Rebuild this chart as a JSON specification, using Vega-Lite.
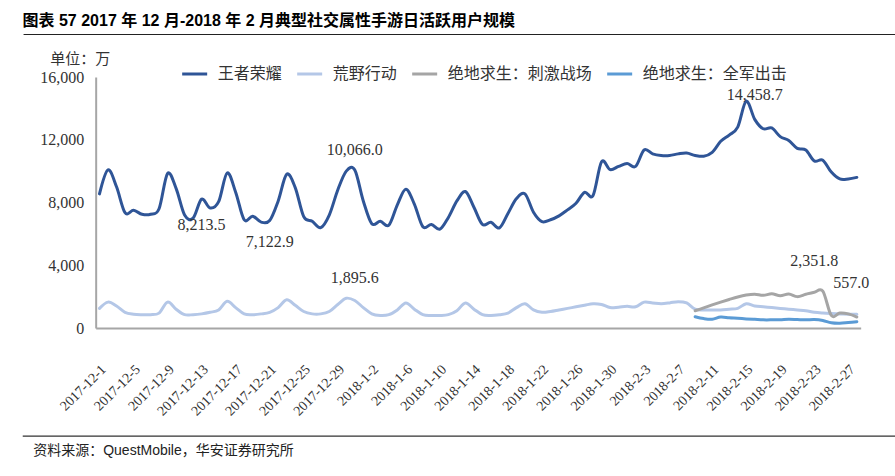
{
  "$schema": "https://vega.github.io/schema/vega-lite/v6.json",
  "padding": {"left": 22, "top": 12, "right": 5, "bottom": 5},
  "background": "white",
  "config": {"view": {"stroke": null}},
  "title": {"text": "图表 57 2017 年 12 月-2018 年 2 月典型社交属性手游日活跃用户规模", "anchor": "start", "dx": 0, "offset": 5, "font": "Liberation Sans, Noto Sans CJK SC", "fontSize": 16, "fontWeight": "bold", "color": "#000"},
  "spacing": 16,
  "center": true,
  "resolve": {"scale": {"color": "independent"}, "legend": {"color": "independent"}},
  "vconcat": [
    {
      "width": 918, "height": 0.01,
      "view": {"stroke": "#222", "strokeWidth": 1},
      "data": {"values": [{"t": ""}]},
      "mark": {"type": "text", "fontSize": 0},
      "encoding": {"text": {"field": "t"}}
    },
    {
      "width": 765, "height": 251,
      "layer": [
        {
          "data": {"values": [
            {"d":"2017-12-1","王者荣耀":8550,"荒野行动":1250},
            {"d":"2017-12-2","王者荣耀":10080,"荒野行动":1650},
            {"d":"2017-12-3","王者荣耀":9000,"荒野行动":1400},
            {"d":"2017-12-4","王者荣耀":7350,"荒野行动":1000},
            {"d":"2017-12-5","王者荣耀":7500,"荒野行动":880},
            {"d":"2017-12-6","王者荣耀":7250,"荒野行动":850},
            {"d":"2017-12-7","王者荣耀":7250,"荒野行动":850},
            {"d":"2017-12-8","王者荣耀":7600,"荒野行动":950},
            {"d":"2017-12-9","王者荣耀":9850,"荒野行动":1650},
            {"d":"2017-12-10","王者荣耀":8900,"荒野行动":1200},
            {"d":"2017-12-11","王者荣耀":7200,"荒野行动":850},
            {"d":"2017-12-12","王者荣耀":7000,"荒野行动":850},
            {"d":"2017-12-13","王者荣耀":8213.5,"荒野行动":900},
            {"d":"2017-12-14","王者荣耀":7650,"荒野行动":1000},
            {"d":"2017-12-15","王者荣耀":8050,"荒野行动":1150},
            {"d":"2017-12-16","王者荣耀":9880,"荒野行动":1700},
            {"d":"2017-12-17","王者荣耀":8660,"荒野行动":1300},
            {"d":"2017-12-18","王者荣耀":6900,"荒野行动":900},
            {"d":"2017-12-19","王者荣耀":7122.9,"荒野行动":850},
            {"d":"2017-12-20","王者荣耀":6750,"荒野行动":900},
            {"d":"2017-12-21","王者荣耀":6850,"荒野行动":1000},
            {"d":"2017-12-22","王者荣耀":8100,"荒野行动":1300},
            {"d":"2017-12-23","王者荣耀":9800,"荒野行动":1800},
            {"d":"2017-12-24","王者荣耀":8950,"荒野行动":1450},
            {"d":"2017-12-25","王者荣耀":7100,"荒野行动":1050},
            {"d":"2017-12-26","王者荣耀":6800,"荒野行动":900},
            {"d":"2017-12-27","王者荣耀":6400,"荒野行动":900},
            {"d":"2017-12-28","王者荣耀":7200,"荒野行动":1050},
            {"d":"2017-12-29","王者荣耀":8800,"荒野行动":1500},
            {"d":"2017-12-30","王者荣耀":10000,"荒野行动":1895.6},
            {"d":"2017-12-31","王者荣耀":10066,"荒野行动":1750},
            {"d":"2018-1-1","王者荣耀":8100,"荒野行动":1300},
            {"d":"2018-1-2","王者荣耀":6650,"荒野行动":900},
            {"d":"2018-1-3","王者荣耀":6800,"荒野行动":800},
            {"d":"2018-1-4","王者荣耀":6550,"荒野行动":850},
            {"d":"2018-1-5","王者荣耀":7850,"荒野行动":1150},
            {"d":"2018-1-6","王者荣耀":8850,"荒野行动":1600},
            {"d":"2018-1-7","王者荣耀":7900,"荒野行动":1200},
            {"d":"2018-1-8","王者荣耀":6450,"荒野行动":850},
            {"d":"2018-1-9","王者荣耀":6600,"荒野行动":800},
            {"d":"2018-1-10","王者荣耀":6300,"荒野行动":800},
            {"d":"2018-1-11","王者荣耀":7050,"荒野行动":850},
            {"d":"2018-1-12","王者荣耀":8100,"荒野行动":1100},
            {"d":"2018-1-13","王者荣耀":8700,"荒野行动":1600},
            {"d":"2018-1-14","王者荣耀":7700,"荒野行动":1200},
            {"d":"2018-1-15","王者荣耀":6600,"荒野行动":850},
            {"d":"2018-1-16","王者荣耀":6740,"荒野行动":800},
            {"d":"2018-1-17","王者荣耀":6380,"荒野行动":850},
            {"d":"2018-1-18","王者荣耀":7300,"荒野行动":950},
            {"d":"2018-1-19","王者荣耀":8250,"荒野行动":1300},
            {"d":"2018-1-20","王者荣耀":8550,"荒野行动":1550},
            {"d":"2018-1-21","王者荣耀":7380,"荒野行动":1150},
            {"d":"2018-1-22","王者荣耀":6780,"荒野行动":1000},
            {"d":"2018-1-23","王者荣耀":6900,"荒野行动":1050},
            {"d":"2018-1-24","王者荣耀":7150,"荒野行动":1150},
            {"d":"2018-1-25","王者荣耀":7530,"荒野行动":1250},
            {"d":"2018-1-26","王者荣耀":7950,"荒野行动":1350},
            {"d":"2018-1-27","王者荣耀":8650,"荒野行动":1450},
            {"d":"2018-1-28","王者荣耀":8450,"荒野行动":1550},
            {"d":"2018-1-29","王者荣耀":10600,"荒野行动":1500},
            {"d":"2018-1-30","王者荣耀":10100,"荒野行动":1300},
            {"d":"2018-1-31","王者荣耀":10300,"荒野行动":1330},
            {"d":"2018-2-1","王者荣耀":10480,"荒野行动":1380},
            {"d":"2018-2-2","王者荣耀":10300,"荒野行动":1350},
            {"d":"2018-2-3","王者荣耀":11350,"荒野行动":1650},
            {"d":"2018-2-4","王者荣耀":11100,"荒野行动":1600},
            {"d":"2018-2-5","王者荣耀":11000,"荒野行动":1550},
            {"d":"2018-2-6","王者荣耀":11000,"荒野行动":1600},
            {"d":"2018-2-7","王者荣耀":11100,"荒野行动":1680},
            {"d":"2018-2-8","王者荣耀":11150,"荒野行动":1600},
            {"d":"2018-2-9","王者荣耀":11000,"荒野行动":1200,"绝地求生：刺激战场":1100,"绝地求生：全军出击":720},
            {"d":"2018-2-10","王者荣耀":10950,"荒野行动":1150,"绝地求生：刺激战场":1280,"绝地求生：全军出击":600},
            {"d":"2018-2-11","王者荣耀":11200,"荒野行动":1150,"绝地求生：刺激战场":1470,"绝地求生：全军出击":560},
            {"d":"2018-2-12","王者荣耀":11900,"荒野行动":1150,"绝地求生：刺激战场":1650,"绝地求生：全军出击":700},
            {"d":"2018-2-13","王者荣耀":12300,"荒野行动":1200,"绝地求生：刺激战场":1820,"绝地求生：全军出击":650},
            {"d":"2018-2-14","王者荣耀":12800,"荒野行动":1250,"绝地求生：刺激战场":1980,"绝地求生：全军出击":620},
            {"d":"2018-2-15","王者荣耀":14458.7,"荒野行动":1550,"绝地求生：刺激战场":2100,"绝地求生：全军出击":580},
            {"d":"2018-2-16","王者荣耀":13300,"荒野行动":1400,"绝地求生：刺激战场":2150,"绝地求生：全军出击":550},
            {"d":"2018-2-17","王者荣耀":12700,"荒野行动":1350,"绝地求生：刺激战场":2080,"绝地求生：全军出击":520},
            {"d":"2018-2-18","王者荣耀":12750,"荒野行动":1300,"绝地求生：刺激战场":2180,"绝地求生：全军出击":520},
            {"d":"2018-2-19","王者荣耀":12200,"荒野行动":1250,"绝地求生：刺激战场":2060,"绝地求生：全军出击":530},
            {"d":"2018-2-20","王者荣耀":11950,"荒野行动":1200,"绝地求生：刺激战场":2170,"绝地求生：全军出击":560},
            {"d":"2018-2-21","王者荣耀":11450,"荒野行动":1150,"绝地求生：刺激战场":2000,"绝地求生：全军出击":540},
            {"d":"2018-2-22","王者荣耀":11350,"荒野行动":1100,"绝地求生：刺激战场":2150,"绝地求生：全军出击":520},
            {"d":"2018-2-23","王者荣耀":10650,"荒野行动":1000,"绝地求生：刺激战场":2280,"绝地求生：全军出击":540},
            {"d":"2018-2-24","王者荣耀":10700,"荒野行动":950,"绝地求生：刺激战场":2351.8,"绝地求生：全军出击":480},
            {"d":"2018-2-25","王者荣耀":9940,"荒野行动":920,"绝地求生：刺激战场":800,"绝地求生：全军出击":330},
            {"d":"2018-2-26","王者荣耀":9500,"荒野行动":900,"绝地求生：刺激战场":950,"绝地求生：全军出击":300},
            {"d":"2018-2-27","王者荣耀":9500,"荒野行动":880,"绝地求生：刺激战场":900,"绝地求生：全军出击":350},
            {"d":"2018-2-28","王者荣耀":9600,"荒野行动":870,"绝地求生：刺激战场":700,"绝地求生：全军出击":400}
          ]},
          "transform": [{"fold": ["王者荣耀", "荒野行动", "绝地求生：刺激战场", "绝地求生：全军出击"], "as": ["g", "v"]}],
          "mark": {"type": "line", "interpolate": "cardinal", "strokeWidth": 3, "strokeCap": "round"},
          "encoding": {
            "x": {
              "field": "d", "type": "ordinal", "sort": null,
              "scale": {"type": "point", "padding": 0.45},
              "axis": {
                "title": null,
                "values": ["2017-12-1","2017-12-5","2017-12-9","2017-12-13","2017-12-17","2017-12-21","2017-12-25","2017-12-29","2018-1-2","2018-1-6","2018-1-10","2018-1-14","2018-1-18","2018-1-22","2018-1-26","2018-1-30","2018-2-3","2018-2-7","2018-2-11","2018-2-15","2018-2-19","2018-2-23","2018-2-27"],
                "labelAngle": -45, "labelAlign": "right", "labelBaseline": "middle",
                "labelPadding": 39, "labelOffset": 4, "labelOverlap": false,
                "labelFont": "Liberation Serif", "labelFontSize": 14, "labelColor": "#333",
                "ticks": false, "domainColor": "#A6A6A6", "domainWidth": 2
              }
            },
            "y": {
              "field": "v", "type": "quantitative",
              "scale": {"domain": [0, 16000], "nice": false},
              "axis": {
                "title": "单位：万", "titleAngle": 0, "titleX": -46, "titleY": -19,
                "titleAlign": "left", "titleBaseline": "middle",
                "titleFont": "Liberation Serif, Noto Sans CJK SC", "titleFontSize": 15, "titleFontWeight": "normal", "titleColor": "#333",
                "values": [0, 4000, 8000, 12000, 16000], "format": ",.0f",
                "labelFont": "Liberation Serif", "labelFontSize": 16, "labelColor": "#333", "labelPadding": 12,
                "ticks": false, "grid": false, "domainColor": "#A6A6A6", "domainWidth": 2
              }
            },
            "color": {
              "field": "g", "type": "nominal",
              "scale": {"domain": ["王者荣耀", "荒野行动", "绝地求生：刺激战场", "绝地求生：全军出击"], "range": ["#2F5597", "#B4C7E7", "#A5A5A5", "#5B9BD5"]},
              "legend": {
                "orient": "none", "legendX": 85, "legendY": -17, "direction": "horizontal", "title": null,
                "symbolType": "stroke", "symbolSize": 625, "symbolStrokeWidth": 3,
                "labelFont": "Liberation Serif, Noto Sans CJK SC", "labelFontSize": 16, "labelColor": "#333",
                "labelOffset": 9, "columnPadding": 8, "padding": 0
              }
            }
          }
        },
        {
          "data": {"values": [{"d": "2017-12-13", "v": 8213.5, "t": "8,213.5"}, {"d": "2017-12-21", "v": 7122.9, "t": "7,122.9"}]},
          "mark": {"type": "text", "dy": 26, "font": "Liberation Serif", "fontSize": 16, "color": "#333"},
          "encoding": {"x": {"field": "d", "type": "ordinal", "sort": null}, "y": {"field": "v", "type": "quantitative"}, "text": {"field": "t"}}
        },
        {
          "data": {"values": [{"d": "2017-12-31", "v": 10066.0, "t": "10,066.0"}, {"d": "2017-12-31", "v": 1895.6, "t": "1,895.6"}]},
          "mark": {"type": "text", "dy": -20, "font": "Liberation Serif", "fontSize": 16, "color": "#333"},
          "encoding": {"x": {"field": "d", "type": "ordinal", "sort": null}, "y": {"field": "v", "type": "quantitative"}, "text": {"field": "t"}}
        },
        {
          "data": {"values": [{"d": "2018-2-16", "v": 14458.7, "t": "14,458.7"}]},
          "mark": {"type": "text", "dy": -6, "font": "Liberation Serif", "fontSize": 16, "color": "#333"},
          "encoding": {"x": {"field": "d", "type": "ordinal", "sort": null}, "y": {"field": "v", "type": "quantitative"}, "text": {"field": "t"}}
        },
        {
          "data": {"values": [{"d": "2018-2-23", "v": 2351.8, "t": "2,351.8"}]},
          "mark": {"type": "text", "dy": -30, "font": "Liberation Serif", "fontSize": 16, "color": "#333"},
          "encoding": {"x": {"field": "d", "type": "ordinal", "sort": null}, "y": {"field": "v", "type": "quantitative"}, "text": {"field": "t"}}
        },
        {
          "data": {"values": [{"d": "2018-2-27", "v": 557.0, "t": "557.0"}]},
          "mark": {"type": "text", "dy": -36, "dx": 3, "font": "Liberation Serif", "fontSize": 16, "color": "#333"},
          "encoding": {"x": {"field": "d", "type": "ordinal", "sort": null}, "y": {"field": "v", "type": "quantitative"}, "text": {"field": "t"}}
        }
      ]
    },
    {
      "width": 918, "height": 0.01,
      "view": {"stroke": "#333", "strokeWidth": 1.3},
      "title": {"text": "资料来源：QuestMobile，华安证券研究所", "orient": "bottom", "anchor": "start", "offset": 8, "dx": 10, "font": "Liberation Sans, Noto Sans CJK SC", "fontSize": 14, "fontWeight": "normal", "color": "#222"},
      "data": {"values": [{"t": ""}]},
      "mark": {"type": "text", "fontSize": 0},
      "encoding": {"text": {"field": "t"}}
    }
  ]
}
